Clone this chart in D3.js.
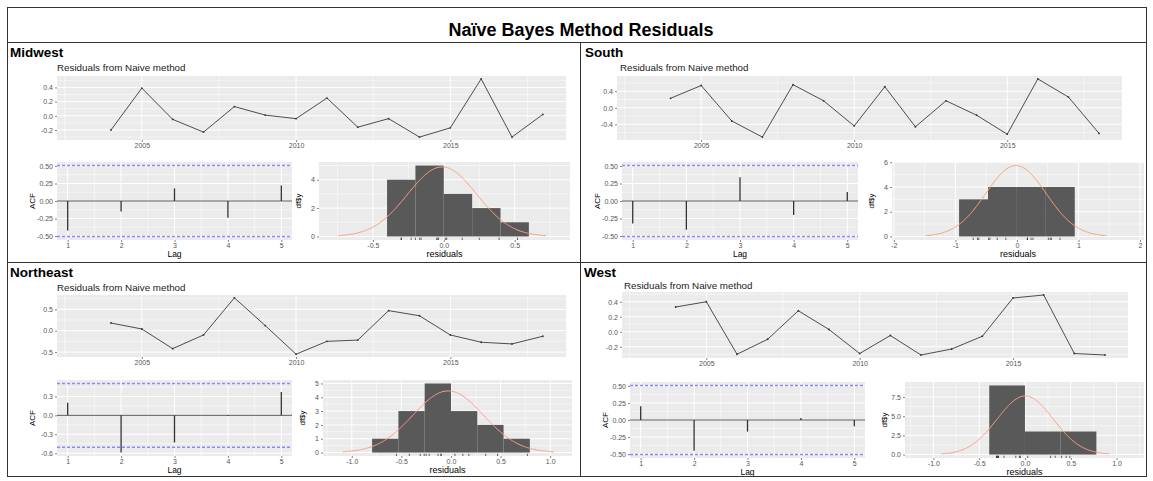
<!DOCTYPE html>
<html>
<head>
<meta charset="utf-8">
<script src="https://cdn.jsdelivr.net/npm/d3@7"></script>
<style>
  body { margin: 0; background: #fff; }
  text { font-family: "Liberation Sans", Arial, sans-serif; }
</style>
</head>
<body>
<div class="chart"></div>
<script>
// canvas
var svgWidth = 1153;
var svgHeight = 481;

// residuals from the naive method (2003 is NA, so the series starts in 2004)
var startYear = 2003;
var years = [2004, 2005, 2006, 2007, 2008, 2009, 2010, 2011, 2012, 2013, 2014, 2015, 2016, 2017, 2018];
var midwestResid = [-0.20, 0.39, -0.05, -0.23, 0.13, 0.01, -0.04, 0.25, -0.16, -0.04, -0.30, -0.17, 0.52, -0.30, 0.02];
var southResid = [0.23, 0.54, -0.32, -0.71, 0.56, 0.17, -0.44, 0.51, -0.46, 0.17, -0.18, -0.64, 0.70, 0.26, -0.62];
var northeastResid = [0.18, 0.04, -0.42, -0.10, 0.77, 0.12, -0.55, -0.25, -0.22, 0.47, 0.35, -0.10, -0.27, -0.31, -0.13];
var westResid = [0.33, 0.40, -0.30, -0.10, 0.28, 0.03, -0.29, -0.05, -0.31, -0.23, -0.06, 0.45, 0.49, -0.29, -0.31];

// autocorrelations
var lags = [1, 2, 3, 4, 5];
var midwestAcf = [-0.42, -0.15, 0.18, -0.24, 0.22];
var southAcf = [-0.32, -0.41, 0.34, -0.20, 0.13];
var northeastAcf = [0.20, -0.59, -0.43, -0.01, 0.37];
var westAcf = [0.20, -0.45, -0.17, 0.03, -0.09];

// histogram bin edges and counts
var midwestBins = [-0.4, -0.2, 0, 0.2, 0.4, 0.6];
var midwestCounts = [4, 5, 3, 2, 1];
var southBins = [-0.94, -0.47, 0, 0.47, 0.94];
var southCounts = [3, 4, 4, 4];
var northeastBins = [-0.795, -0.53, -0.265, 0, 0.265, 0.53, 0.795];
var northeastCounts = [1, 3, 5, 3, 2, 1];
var westBins = [-0.39, 0, 0.39, 0.78];
var westCounts = [9, 3, 3];

// tick labels
var yearTicks = ["2005", "2010", "2015"];
var lagTicks = ["1", "2", "3", "4", "5"];
var midwestLineTicks = ["-0.2", "0.0", "0.2", "0.4"];
var southLineTicks = ["-0.4", "0.0", "0.4"];
var northeastLineTicks = ["-0.5", "0.0", "0.5"];
var westLineTicks = ["-0.2", "0.0", "0.2", "0.4"];
var midwestAcfTicks = ["-0.50", "-0.25", "0.00", "0.25", "0.50"];
var southAcfTicks = ["-0.50", "-0.25", "0.00", "0.25", "0.50"];
var northeastAcfTicks = ["-0.6", "-0.3", "0.0", "0.3"];
var westAcfTicks = ["-0.50", "-0.25", "0.00", "0.25", "0.50"];
var midwestHistXTicks = ["-0.5", "0.0", "0.5"];
var southHistXTicks = ["-2", "-1", "0", "1", "2"];
var northeastHistXTicks = ["-1.0", "-0.5", "0.0", "0.5", "1.0"];
var westHistXTicks = ["-1.0", "-0.5", "0.0", "0.5", "1.0"];
var midwestHistYTicks = ["0", "2", "4"];
var southHistYTicks = ["0", "2", "4", "6"];
var northeastHistYTicks = ["0", "1", "2", "3", "4", "5"];
var westHistYTicks = ["0.0", "2.5", "5.0", "7.5"];

// x range of each histogram
var midwestHistRange = [-0.88, 0.89];
var southHistRange = [-2.03, 2.065];
var northeastHistRange = [-1.29, 1.22];
var westHistRange = [-1.31, 1.3];

var regions = [
  { name: "Midwest", resid: midwestResid, acf: midwestAcf, bins: midwestBins, counts: midwestCounts,
    lineTicks: midwestLineTicks, acfTicks: midwestAcfTicks, hx: midwestHistXTicks, hy: midwestHistYTicks, hr: midwestHistRange,
    label: [10, 57], sub: [57, 71],
    top: { x0: 57, x1: 566, y0: 76, y1: 140 },
    acfBox: { x0: 57, x1: 292, y0: 162, y1: 240 },
    hist: { x0: 319, x1: 570, y0: 162, y1: 240 } },
  { name: "South", resid: southResid, acf: southAcf, bins: southBins, counts: southCounts,
    lineTicks: southLineTicks, acfTicks: southAcfTicks, hx: southHistXTicks, hy: southHistYTicks, hr: southHistRange,
    label: [585, 57], sub: [620, 71],
    top: { x0: 617, x1: 1122, y0: 76, y1: 140 },
    acfBox: { x0: 622, x1: 858, y0: 162, y1: 240 },
    hist: { x0: 892, x1: 1144, y0: 162, y1: 240 } },
  { name: "Northeast", resid: northeastResid, acf: northeastAcf, bins: northeastBins, counts: northeastCounts,
    lineTicks: northeastLineTicks, acfTicks: northeastAcfTicks, hx: northeastHistXTicks, hy: northeastHistYTicks, hr: northeastHistRange,
    label: [10, 277], sub: [57, 291],
    top: { x0: 57, x1: 566, y0: 295, y1: 357 },
    acfBox: { x0: 57, x1: 292, y0: 380, y1: 456 },
    hist: { x0: 323, x1: 572, y0: 380, y1: 456 } },
  { name: "West", resid: westResid, acf: westAcf, bins: westBins, counts: westCounts,
    lineTicks: westLineTicks, acfTicks: westAcfTicks, hx: westHistXTicks, hy: westHistYTicks, hr: westHistRange,
    label: [584, 277], sub: [624, 289],
    top: { x0: 622, x1: 1128, y0: 292, y1: 358 },
    acfBox: { x0: 630, x1: 865, y0: 382, y1: 458 },
    hist: { x0: 905, x1: 1144, y0: 382, y1: 458 } }
];

var svg = d3.select(".chart").append("svg")
  .attr("width", svgWidth)
  .attr("height", svgHeight);

// ggplot style 5% expansion
function expand(lo, hi) {
  var pad = (hi - lo) * 0.05;
  return [lo - pad, hi + pad];
}

// minor gridlines halfway between the majors
function minors(vals, domain) {
  var step = vals[1] - vals[0];
  var out = [];
  for (var v = vals[0] - step / 2; v <= domain[1]; v += step) {
    if (v >= domain[0]) out.push(v);
  }
  return out;
}

// gray panel, grid and both axes
function panel(g, box, x, y, xLabels, yLabels) {
  var xVals = xLabels.map(Number), yVals = yLabels.map(Number);
  g.append("rect")
    .attr("x", box.x0).attr("y", box.y0)
    .attr("width", box.x1 - box.x0).attr("height", box.y1 - box.y0)
    .attr("fill", "#ebebeb");

  var grid = g.append("g");
  minors(yVals, y.domain()).forEach(function (v) {
    grid.append("line").attr("x1", box.x0).attr("x2", box.x1)
      .attr("y1", y(v)).attr("y2", y(v)).style("stroke", "#fff").style("stroke-width", 0.5);
  });
  minors(xVals, x.domain()).forEach(function (v) {
    grid.append("line").attr("y1", box.y0).attr("y2", box.y1)
      .attr("x1", x(v)).attr("x2", x(v)).style("stroke", "#fff").style("stroke-width", 0.5);
  });
  yVals.forEach(function (v) {
    grid.append("line").attr("x1", box.x0).attr("x2", box.x1)
      .attr("y1", y(v)).attr("y2", y(v)).style("stroke", "#fff").style("stroke-width", 1);
  });
  xVals.forEach(function (v) {
    grid.append("line").attr("y1", box.y0).attr("y2", box.y1)
      .attr("x1", x(v)).attr("x2", x(v)).style("stroke", "#fff").style("stroke-width", 1);
  });

  var leftAxis = d3.axisLeft(y).tickValues(yVals)
    .tickFormat(function (d, i) { return yLabels[i]; })
    .tickSize(2).tickPadding(2);
  var bottomAxis = d3.axisBottom(x).tickValues(xVals)
    .tickFormat(function (d, i) { return xLabels[i]; })
    .tickSize(2).tickPadding(1.5);

  var ya = g.append("g").attr("transform", "translate(" + box.x0 + ",0)").call(leftAxis);
  var xa = g.append("g").attr("transform", "translate(0," + box.y1 + ")").call(bottomAxis);
  [ya, xa].forEach(function (ax) {
    ax.select(".domain").remove();
    ax.selectAll("line").attr("stroke", "#333").attr("stroke-width", 0.6);
    ax.selectAll("text").attr("fill", "#555").style("font-size", "7px")
      .style("font-family", "'Liberation Sans', Arial, sans-serif");
  });
}

regions.forEach(function (r) {
  var g = svg.append("g");

  g.append("text").attr("x", r.label[0]).attr("y", r.label[1])
    .style("font-size", "13.5px").style("font-weight", "bold").attr("fill", "#000")
    .text(r.name);
  g.append("text").attr("x", r.sub[0]).attr("y", r.sub[1])
    .style("font-size", "9.8px").attr("fill", "#222")
    .text("Residuals from Naive method");

  // residual time series
  var t = r.top;
  var xTime = d3.scaleLinear()
    .domain(expand(startYear, d3.max(years)))
    .range([t.x0, t.x1]);
  var yTime = d3.scaleLinear()
    .domain(expand(d3.min(r.resid), d3.max(r.resid)))
    .range([t.y1, t.y0]);
  panel(g, t, xTime, yTime, yearTicks, r.lineTicks);

  var line = d3.line()
    .x(function (d, i) { return xTime(years[i]); })
    .y(function (d) { return yTime(d); });
  g.append("path").datum(r.resid)
    .attr("d", line).attr("fill", "none")
    .attr("stroke", "#3a3a3a").attr("stroke-width", 0.9);
  g.selectAll(null).data(r.resid).enter().append("circle")
    .attr("cx", function (d, i) { return xTime(years[i]); })
    .attr("cy", function (d) { return yTime(d); })
    .attr("r", 0.9).attr("fill", "#333");

  // ACF
  var a = r.acfBox;
  var ci = 1.96 / Math.sqrt(r.resid.length);
  var xLag = d3.scaleLinear().domain(expand(1, 5)).range([a.x0, a.x1]);
  var yAcf = d3.scaleLinear()
    .domain(expand(Math.min(-ci, d3.min(r.acf)), Math.max(ci, d3.max(r.acf))))
    .range([a.y1, a.y0]);
  panel(g, a, xLag, yAcf, lagTicks, r.acfTicks);

  g.append("line").attr("x1", a.x0).attr("x2", a.x1)
    .attr("y1", yAcf(0)).attr("y2", yAcf(0))
    .style("stroke", "#5a5a5a").style("stroke-width", 1);
  g.selectAll(null).data(r.acf).enter().append("line")
    .attr("x1", function (d, i) { return xLag(lags[i]); })
    .attr("x2", function (d, i) { return xLag(lags[i]); })
    .attr("y1", yAcf(0))
    .attr("y2", function (d) { return yAcf(d); })
    .style("stroke", "#333").style("stroke-width", 1.3);
  var ciLines = g.append("g");
  [ci, -ci].forEach(function (c) {
    ciLines.append("line").attr("x1", a.x0).attr("x2", a.x1)
      .attr("y1", yAcf(c)).attr("y2", yAcf(c))
      .style("stroke", "#8a8aff").style("stroke-width", 1.4)
      .style("stroke-dasharray", "3,2");
  });
  g.append("text")
    .attr("transform", "translate(" + (a.x0 - 22) + "," + ((a.y0 + a.y1) / 2) + ") rotate(-90)")
    .attr("text-anchor", "middle").style("font-size", "8px").attr("fill", "#000")
    .text("ACF");
  g.append("text").attr("x", (a.x0 + a.x1) / 2).attr("y", a.y1 + 17)
    .attr("text-anchor", "middle").style("font-size", "8.5px").attr("fill", "#000")
    .text("Lag");

  // histogram with normal curve
  var h = r.hist;
  var n = r.resid.length;
  var mean = d3.mean(r.resid), sd = d3.deviation(r.resid);
  var bw = r.bins[1] - r.bins[0];
  var curve = d3.range(0, 201).map(function (k) {
    var xv = mean - 3 * sd + (6 * sd) * k / 200;
    var z = (xv - mean) / sd;
    return [xv, n * bw * Math.exp(-0.5 * z * z) / (sd * Math.sqrt(2 * Math.PI))];
  });
  var xRes = d3.scaleLinear().domain(r.hr).range([h.x0, h.x1]);
  var top = Math.max(d3.max(r.counts), d3.max(curve, function (d) { return d[1]; }));
  var yCount = d3.scaleLinear().domain(expand(0, top)).range([h.y1, h.y0]);
  panel(g, h, xRes, yCount, r.hx, r.hy);

  g.selectAll(null).data(r.counts).enter().append("rect")
    .attr("x", function (d, i) { return xRes(r.bins[i]); })
    .attr("width", function (d, i) { return xRes(r.bins[i + 1]) - xRes(r.bins[i]); })
    .attr("y", function (d) { return yCount(d); })
    .attr("height", function (d) { return yCount(0) - yCount(d); })
    .attr("fill", "#595959");
  g.append("path").datum(curve)
    .attr("d", d3.line()
      .x(function (d) { return xRes(d[0]); })
      .y(function (d) { return yCount(d[1]); }))
    .attr("fill", "none").attr("stroke", "#f7a184").attr("stroke-width", 1);
  // rug
  var rugLen = (h.y1 - h.y0) * 0.03;
  g.selectAll(null).data(r.resid).enter().append("line")
    .attr("x1", function (d) { return xRes(d); })
    .attr("x2", function (d) { return xRes(d); })
    .attr("y1", h.y1).attr("y2", h.y1 - rugLen)
    .style("stroke", "#000").style("stroke-width", 0.6);
  g.append("text")
    .attr("transform", "translate(" + (h.x0 - 18) + "," + ((h.y0 + h.y1) / 2) + ") rotate(-90)")
    .attr("text-anchor", "middle").style("font-size", "8px").attr("fill", "#000")
    .text("df$y");
  g.append("text").attr("x", (h.x0 + h.x1) / 2).attr("y", h.y1 + 17)
    .attr("text-anchor", "middle").style("font-size", "9px").attr("fill", "#000")
    .text("residuals");
});

// frame and dividers
var frame = svg.append("g").attr("stroke", "#333").attr("stroke-width", 1).attr("fill", "none");
frame.append("rect").attr("x", 7.5).attr("y", 7.5).attr("width", 1139).attr("height", 469);
frame.append("line").attr("x1", 7.5).attr("x2", 1146.5).attr("y1", 42.5).attr("y2", 42.5);
frame.append("line").attr("x1", 7.5).attr("x2", 1146.5).attr("y1", 262.5).attr("y2", 262.5);
frame.append("line").attr("x1", 580.5).attr("x2", 580.5).attr("y1", 42.5).attr("y2", 476.5);

svg.append("text").attr("x", 581).attr("y", 36)
  .attr("text-anchor", "middle")
  .style("font-size", "18px").style("font-weight", "bold").attr("fill", "#000")
  .text("Naïve Bayes Method Residuals");
</script>
</body>
</html>
